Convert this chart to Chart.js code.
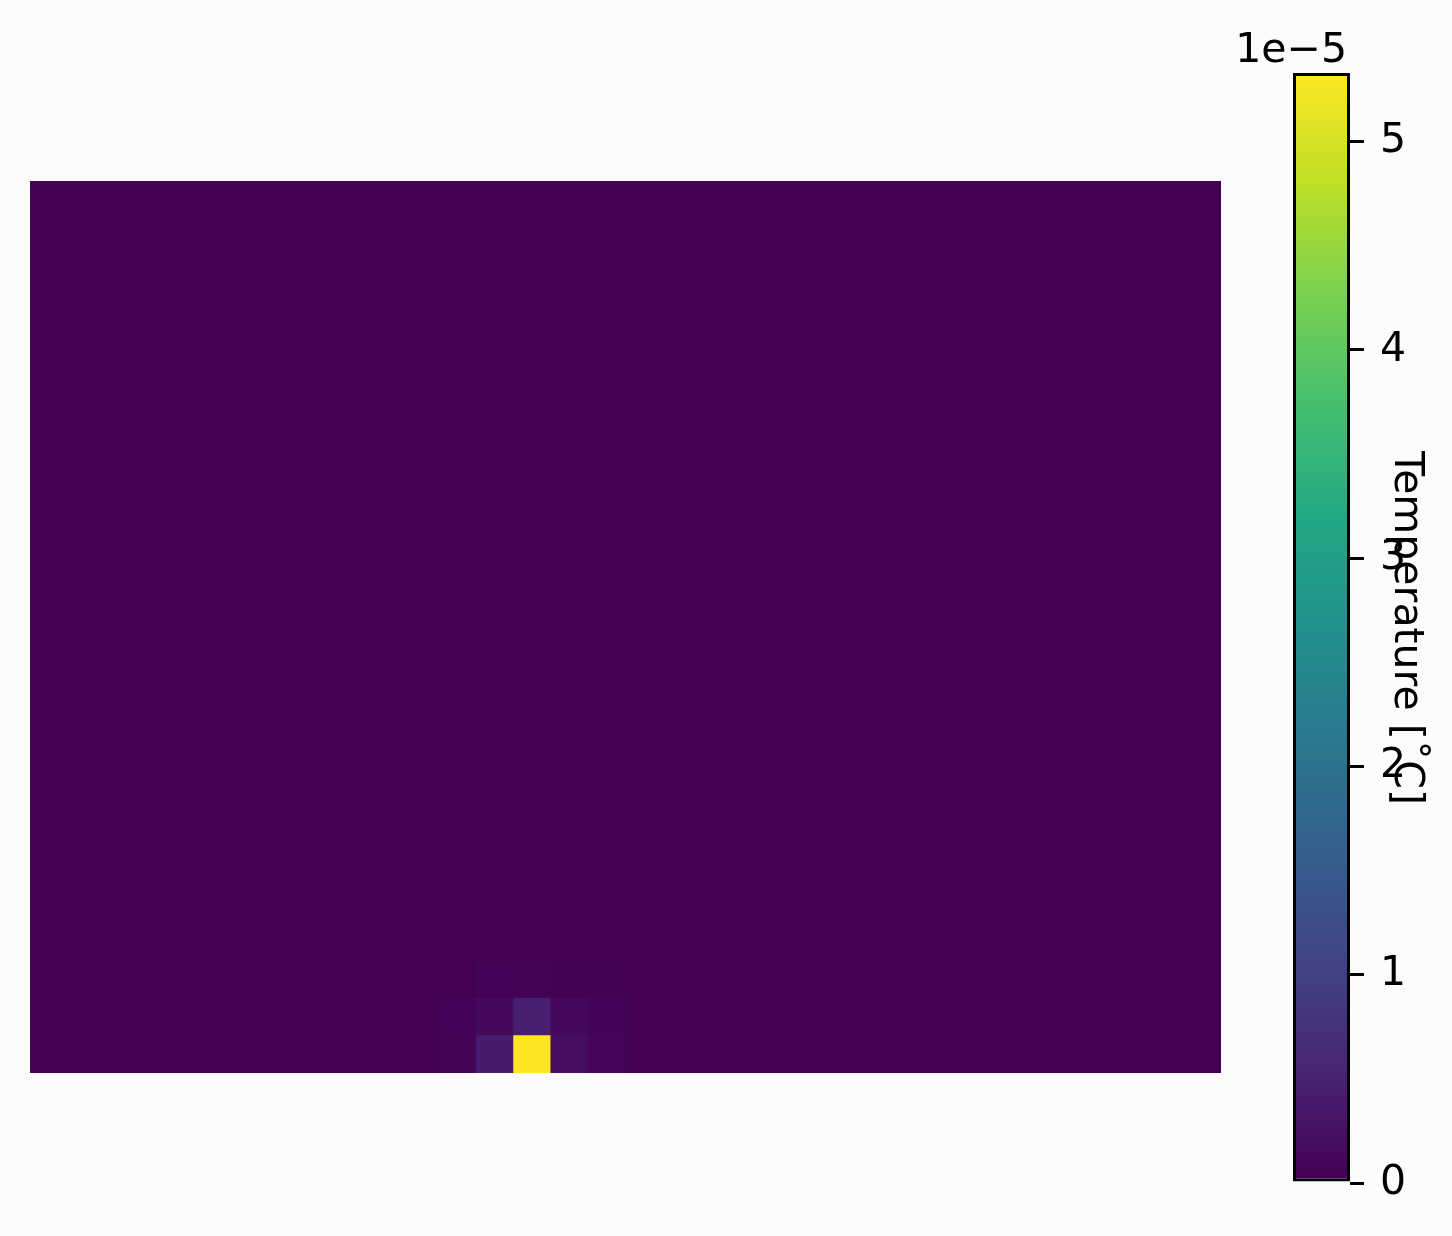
<!DOCTYPE html>
<html>
<head>
<meta charset="utf-8">
<script src="https://cdn.jsdelivr.net/npm/chart.js@4"></script>
<style>
  html, body { margin: 0; padding: 0; background: #fcfcfc; }
  #wrap { position: relative; width: 1452px; height: 1236px; background: #fcfcfc; }
  #heat { position: absolute; left: 30px; top: 181px; }
  #cbar { position: absolute; left: 1230px; top: 0px; }
</style>
</head>
<body>
<div id="wrap">
  <canvas id="heat" width="1191" height="892"></canvas>
  <canvas id="cbar" width="222" height="1236"></canvas>
</div>
<script>
// ---- data (values in units of 1e-5 °C) ----
const nCols = 32;
const nRows = 24;             // row 0 = top row
const baseValue = 0;          // background temperature
const cellRows   = [23,   23,   23,   23,   23,   22,   22,   22,   22,   22,   21,   21,   21,   21];
const cellCols   = [11,   12,   13,   14,   15,   11,   12,   13,   14,   15,   12,   13,   14,   15];
const cellValues = [0.04, 0.40, 5.33, 0.20, 0.08, 0.03, 0.13, 0.45, 0.10, 0.05, 0.03, 0.04, 0.02, 0.02];
const cbarTicks = [0, 1, 2, 3, 4, 5];
const cbarLabel = "Temperature [\u02daC]";
const cbarExponent = "1e\u22125";
const vMin = 0;
const vMax = Math.max(...cellValues);

// viridis stops
const viridis = ["#440154","#482475","#414487","#355f8d","#2a788e","#21918c","#22a884","#44bf70","#7ad151","#bddf26","#fde725"];
function hexToRgb(h){ return [parseInt(h.slice(1,3),16), parseInt(h.slice(3,5),16), parseInt(h.slice(5,7),16)]; }
function colorFor(v){
  let t = (v - vMin) / (vMax - vMin);
  t = Math.max(0, Math.min(1, t));
  const p = t * (viridis.length - 1);
  const i = Math.min(Math.floor(p), viridis.length - 2);
  const f = p - i;
  const a = hexToRgb(viridis[i]), b = hexToRgb(viridis[i+1]);
  const c = a.map((x, k) => Math.round(x + (b[k] - x) * f));
  return `rgb(${c[0]},${c[1]},${c[2]})`;
}

// build grid table
const grid = [];
for (let r = 0; r < nRows; r++) grid.push(new Array(nCols).fill(baseValue));
cellRows.forEach((r, k) => { grid[r][cellCols[k]] = cellValues[k]; });

const colLabels = Array.from({length: nCols}, (_, i) => String(i));
// stacked bars: dataset 0 = bottom row
const datasets = [];
for (let d = 0; d < nRows; d++) {
  const row = grid[nRows - 1 - d];
  datasets.push({
    data: row.map(() => 1),
    backgroundColor: row.map(colorFor),
    borderWidth: 0,
    inflateAmount: 0.6,
    barPercentage: 1,
    categoryPercentage: 1,
    stack: 's'
  });
}

Chart.defaults.font.family = "'DejaVu Sans', sans-serif";
Chart.defaults.animation = false;

new Chart(document.getElementById('heat'), {
  type: 'bar',
  data: { labels: colLabels, datasets },
  options: {
    responsive: false,
    animation: false,
    events: [],
    layout: { padding: 0 },
    plugins: { legend: { display: false }, tooltip: { enabled: false } },
    scales: {
      x: { display: false, stacked: true },
      y: { display: false, stacked: true, min: 0, max: nRows }
    }
  }
});

// colorbar
const cbarText = {
  id: 'cbarText',
  afterDraw(chart) {
    const ctx = chart.ctx, a = chart.chartArea;
    ctx.save();
    ctx.fillStyle = '#000';
    ctx.font = "41px 'DejaVu Sans'";
    ctx.textAlign = 'right';
    ctx.textBaseline = 'alphabetic';
    ctx.fillText(cbarExponent, a.right - 3, 62);
    ctx.translate(a.right + 56, (a.top + a.bottom) / 2);
    ctx.rotate(Math.PI / 2);
    ctx.textAlign = 'center';
    ctx.textBaseline = 'middle';
    ctx.fillText(cbarLabel, 0, 0);
    ctx.restore();
  }
};

new Chart(document.getElementById('cbar'), {
  type: 'bar',
  data: {
    labels: [''],
    datasets: [{
      data: [vMax],
      backgroundColor(ctx) {
        const a = ctx.chart.chartArea;
        if (!a) return viridis[0];
        const g = ctx.chart.ctx.createLinearGradient(0, a.bottom, 0, a.top);
        viridis.forEach((c, i) => g.addColorStop(i / (viridis.length - 1), c));
        return g;
      },
      borderColor: '#000',
      borderWidth: 3,
      borderSkipped: false,
      inflateAmount: 0,
      barPercentage: 1,
      categoryPercentage: 1
    }]
  },
  options: {
    responsive: false,
    animation: false,
    events: [],
    layout: { padding: { top: 73, bottom: 53, left: 63, right: 0 } },
    plugins: { legend: { display: false }, tooltip: { enabled: false } },
    scales: {
      x: { display: false },
      y: {
        position: 'right',
        min: vMin,
        max: vMax,
        afterFit(scale) { scale.width = 102; },
        afterBuildTicks(scale) { scale.ticks = cbarTicks.map(v => ({ value: v })); },
        border: { display: false },
        grid: { drawOnChartArea: false, drawTicks: true, tickLength: 14, color: '#000', lineWidth: 3 },
        ticks: { color: '#000', font: { size: 41, family: "'DejaVu Sans'" }, padding: 16, callback: v => String(v) }
      }
    }
  },
  plugins: [cbarText]
});
</script>
</body>
</html>
